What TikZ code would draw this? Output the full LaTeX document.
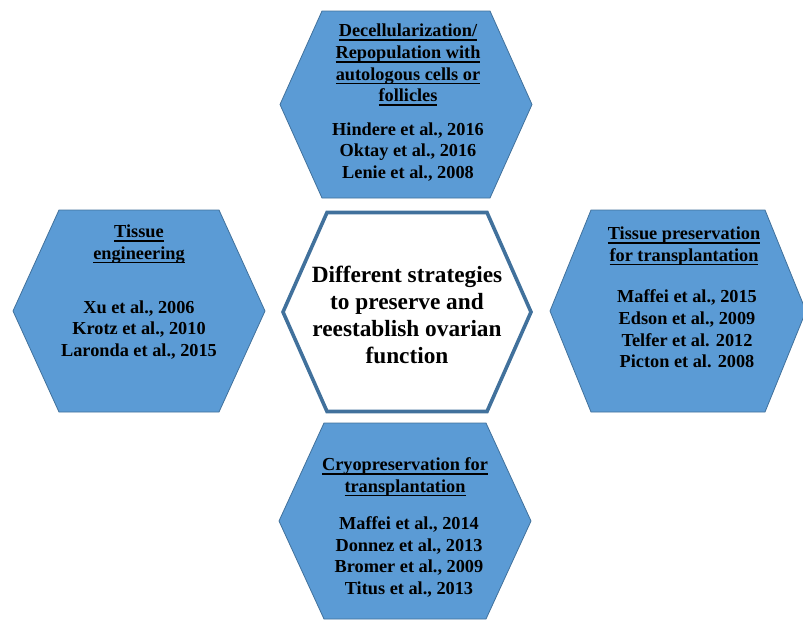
\documentclass[tikz,border=0pt]{standalone}
\usepackage{fontspec}
\setmainfont{Liberation Serif}
\definecolor{hexfill}{HTML}{5B9BD5}
\definecolor{hexedge}{HTML}{41719C}
\newcommand\hul[1]{\setbox0\hbox{#1}\rlap{\rule[-4pt]{\wd0}{1.6pt}}\box0}
\newcommand\hexpath[5]{(#1-#3,#2) -- (#1-#4,#2-#5) -- (#1+#4,#2-#5) -- (#1+#3,#2) -- (#1+#4,#2+#5) -- (#1-#4,#2+#5) -- cycle}
\tikzset{
  outerhex/.style={fill=hexfill, draw=hexedge, line width=0.8pt, line join=miter},
  centerhex/.style={fill=white, draw=hexedge, line width=3.6pt, line join=miter},
  txt/.style={align=center, inner sep=0pt, text=black, font=\bfseries\fontsize{18.3}{21.6}\selectfont},
  bigtxt/.style={align=center, inner sep=0pt, text=black, font=\bfseries\fontsize{23.3}{27}\selectfont}
}
\begin{document}
\begin{tikzpicture}[x=1pt,y=-1pt]
\useasboundingbox (0,0) rectangle (803,622);
% hexagons
\path[outerhex] \hexpath{406}{104.5}{126}{84}{93.5};
\path[outerhex] \hexpath{139}{311}{126}{80}{101};
\path[outerhex] \hexpath{678}{311}{128}{87}{101};
\path[outerhex] \hexpath{405}{521}{126}{81}{98};
\path[centerhex] \hexpath{407}{312}{124}{80}{99.5};
% texts
\node[txt] (tophead) at (408,65) {\hul{Decellularization/}\\\hul{Repopulation with}\\\hul{autologous cells or}\\\hul{follicles}};
\node[txt] (topcit) at (408,152) {Hindere et al., 2016\\Oktay et al., 2016\\Lenie et al., 2008};
\node[txt] (lefthead) at (139,244) {\hul{Tissue}\\\hul{engineering}};
\node[txt] (leftcit) at (139,330) {Xu et al., 2006\\Krotz et al., 2010\\Laronda et al., 2015};
\node[txt] (righthead) at (684,246) {\hul{Tissue preservation}\\\hul{for transplantation}};
\node[txt] (rightcit) at (687,329) {Maffei et al., 2015\\Edson et al., 2009\\Telfer et al. 2012\\Picton et al. 2008};
\node[txt] (bothead) at (405,477) {\hul{Cryopreservation for}\\\hul{transplantation}};
\node[txt] (botcit) at (409,557) {Maffei et al., 2014\\Donnez et al., 2013\\Bromer et al., 2009\\Titus et al., 2013};
\node[bigtxt] (center) at (407,315) {Different strategies\\to preserve and\\reestablish ovarian\\function};
\end{tikzpicture}
\end{document}
